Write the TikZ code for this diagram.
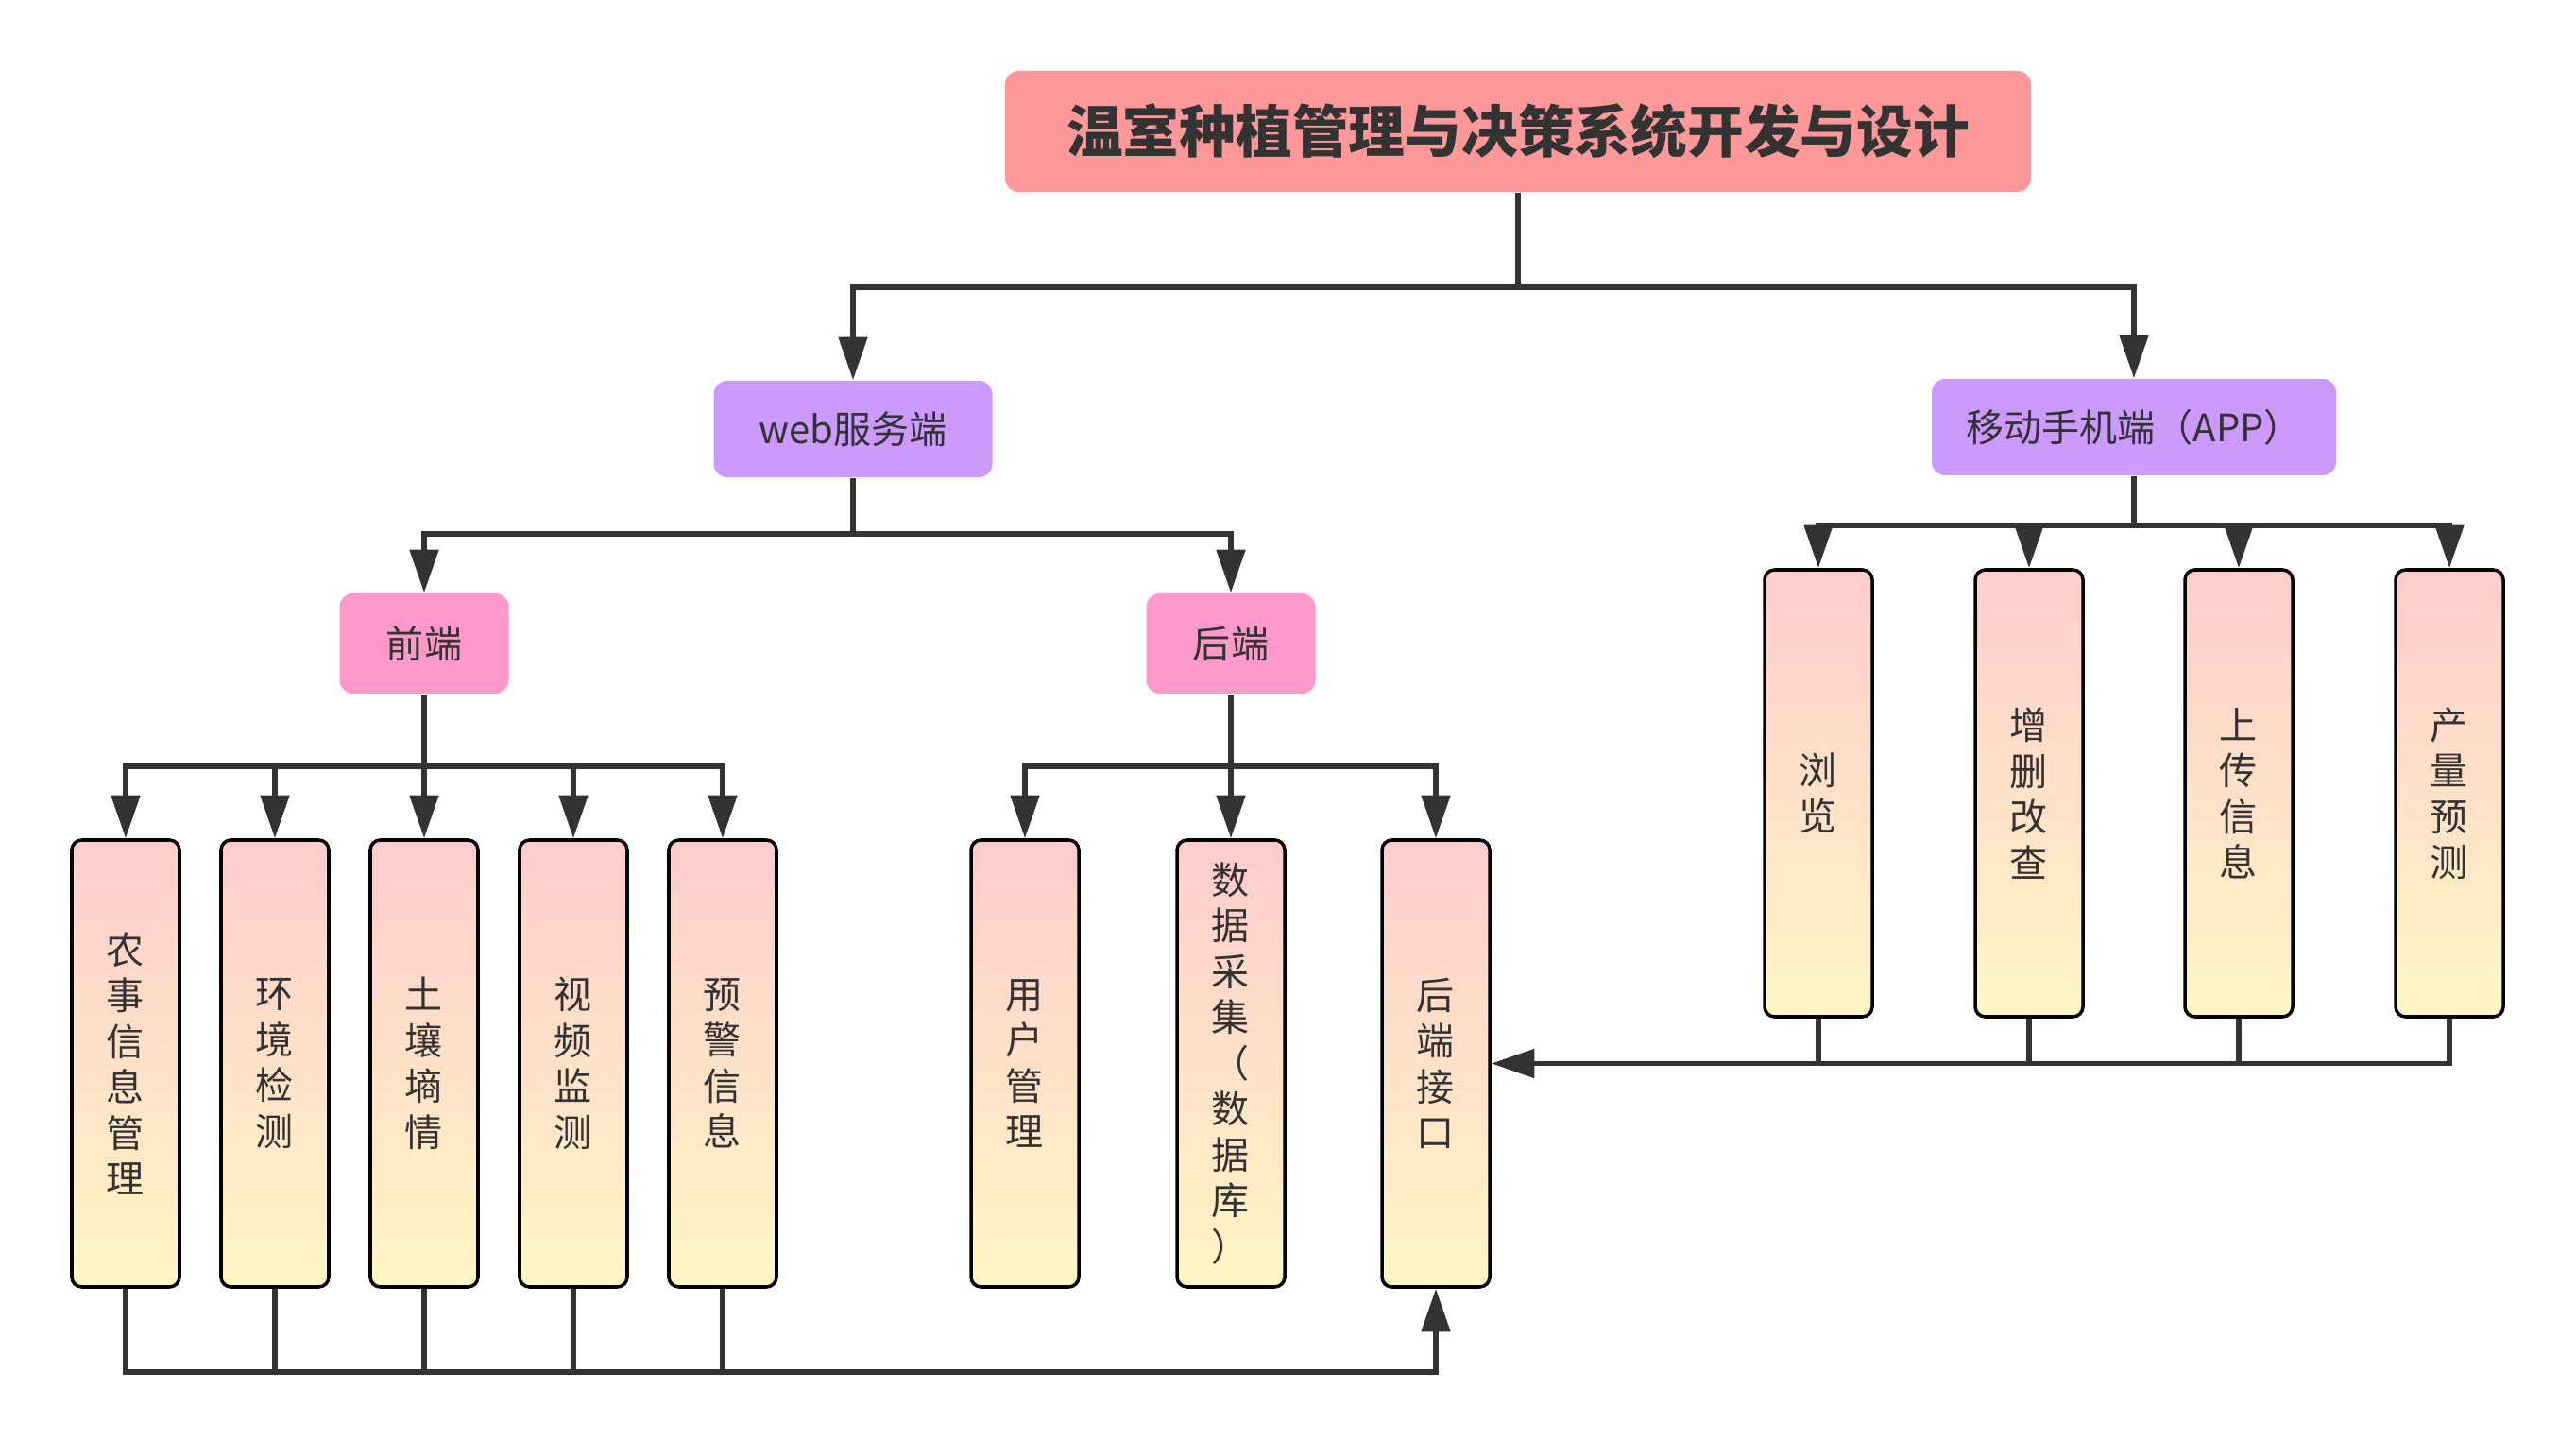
\documentclass[tikz,border=0pt]{standalone}
\usepackage{fontspec}
\newfontfamily\cjk{Noto Sans CJK SC}
\usetikzlibrary{arrows.meta}
\definecolor{txtgray}{HTML}{333333}
\definecolor{titlered}{HTML}{FF9999}
\definecolor{lilac}{HTML}{CC99FF}
\definecolor{rosepink}{HTML}{FF99CC}
\definecolor{leaftop}{HTML}{FFCCCC}
\definecolor{leafbot}{HTML}{FFF6C4}
\begin{document}
\begin{tikzpicture}[
    conn/.style={draw=txtgray, line width=1.6pt},
    arr/.style={conn, -{Triangle[length=13pt,width=8.5pt]}},
    titlebox/.style={fill=titlered, rounded corners=4pt, minimum width=10.86cm,
        minimum height=1.28cm, text=txtgray, font=\cjk\bfseries\fontsize{17}{20}\selectfont},
    sidebox/.style={fill=lilac, rounded corners=4pt, minimum height=1.02cm,
        text=txtgray, font=\cjk\fontsize{11.4}{13.8}\selectfont},
    partbox/.style={fill=rosepink, rounded corners=4pt, minimum width=1.79cm,
        minimum height=1.06cm, text=txtgray, font=\cjk\fontsize{11.4}{13.8}\selectfont},
    leafbox/.style={draw=black, line width=1pt, rounded corners=3pt,
        top color=leaftop, bottom color=leafbot, minimum width=1.14cm,
        minimum height=4.73cm, align=center, inner sep=0pt, text=txtgray,
        font=\cjk\fontsize{11.4}{13.8}\selectfont}]
    \useasboundingbox (0,0) rectangle (27.27,-15.25);

    % top levels
    \node[titlebox] (title) at (16.07,-1.39) {温室种植管理与决策系统开发与设计};
    \node[sidebox, minimum width=2.95cm] (web) at (9.03,-4.54) {web服务端};
    \node[sidebox, minimum width=4.28cm] (app) at (22.59,-4.52) {移动手机端（APP）};
    \node[partbox] (fe) at (4.49,-6.81) {前端};
    \node[partbox] (be) at (13.03,-6.81) {后端};

    % front end leaves
    \node[leafbox] (f1) at (1.33,-11.255) {农\\事\\信\\息\\管\\理};
    \node[leafbox] (f2) at (2.91,-11.255) {环\\境\\检\\测};
    \node[leafbox] (f3) at (4.49,-11.255) {土\\壤\\墒\\情};
    \node[leafbox] (f4) at (6.07,-11.255) {视\\频\\监\\测};
    \node[leafbox] (f5) at (7.65,-11.255) {预\\警\\信\\息};

    % back end leaves
    \node[leafbox] (b1) at (10.85,-11.255) {用\\户\\管\\理};
    \node[leafbox] (b2) at (13.03,-11.255) {数\\据\\采\\集\\（\\数\\据\\库\\）};
    \node[leafbox] (b3) at (15.20,-11.255) {后\\端\\接\\口};

    % app leaves
    \node[leafbox] (a1) at (19.25,-8.395) {浏\\览};
    \node[leafbox] (a2) at (21.48,-8.395) {增\\删\\改\\查};
    \node[leafbox] (a3) at (23.70,-8.395) {上\\传\\信\\息};
    \node[leafbox] (a4) at (25.93,-8.395) {产\\量\\预\\测};

    % tree connectors
    \draw[arr] (title.south) -- ++(0,-1.0) -| (web.north);
    \draw[arr] (title.south) -- ++(0,-1.0) -| (app.north);
    \draw[arr] (web.south) -- ++(0,-0.59) -| (fe.north);
    \draw[arr] (web.south) -- ++(0,-0.59) -| (be.north);
    \foreach \n in {f1,f2,f3,f4,f5}
        \draw[arr] (fe.south) -- ++(0,-0.76) -| (\n.north);
    \foreach \n in {b1,b2,b3}
        \draw[arr] (be.south) -- ++(0,-0.76) -| (\n.north);
    \foreach \n in {a1,a2,a3,a4}
        \draw[arr] (app.south) -- ++(0,-0.52) -| (\n.north);

    % into the back end interface
    \draw[arr] (f1.south) -- ++(0,-0.88) -| (b3.south);
    \foreach \n in {f2,f3,f4,f5}
        \draw[conn] (\n.south) -- ++(0,-0.88);
    \draw[arr] (a4.south) |- (b3.east);
    \foreach \n in {a1,a2,a3}
        \draw[conn] (\n.south) -- (\n.south |- b3.east);
\end{tikzpicture}
\end{document}
